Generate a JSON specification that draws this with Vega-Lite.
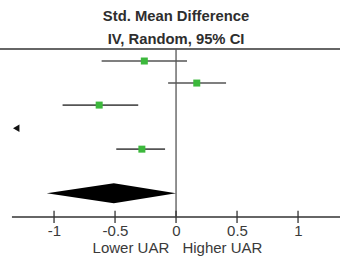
{
  "$schema": "https://vega.github.io/schema/vega-lite/v6.json",
  "autosize": "none",
  "width": 340,
  "height": 168,
  "padding": {"top": 49, "left": 0, "right": 0, "bottom": 45},
  "background": "white",
  "config": {
    "view": {"stroke": null},
    "font": "Liberation Sans",
    "locale": {"number": {"decimal": ".", "thousands": ",", "grouping": [3], "currency": ["$", ""], "minus": "-"}}
  },
  "datasets": {
    "studies": [
      {"row": 1, "smd": -0.26, "lo": -0.61, "hi": 0.09},
      {"row": 2, "smd": 0.17, "lo": -0.065, "hi": 0.41},
      {"row": 3, "smd": -0.63, "lo": -0.93, "hi": -0.31},
      {"row": 5, "smd": -0.28, "lo": -0.49, "hi": -0.09}
    ],
    "offscale": [{"row": 4.05, "x": -1.31}],
    "diamond": [
      {"x": -1.06, "y": 7, "y2": 7},
      {"x": -0.51, "y": 6.545, "y2": 7.455},
      {"x": 0, "y": 7, "y2": 7}
    ],
    "ticks": [{"x": -1}, {"x": -0.5}, {"x": 0}, {"x": 0.5}, {"x": 1}],
    "hlines": [
      {"x": -1.443, "x2": 1.344, "y": 0.4545},
      {"x": -1.345, "x2": 1.344, "y": 8.08}
    ],
    "titles": [
      {"x": 0, "y": -1.0, "t": "Std. Mean Difference"},
      {"x": 0, "y": 0.045, "t": "IV, Random, 95% CI"}
    ],
    "sides": [
      {"x": -0.37, "y": 9.5, "t": "Lower UAR"},
      {"x": 0.38, "y": 9.5, "t": "Higher UAR"}
    ]
  },
  "layer": [
    {
      "data": {"name": "hlines"},
      "mark": {"type": "rule", "color": "#333", "strokeWidth": 1.3},
      "encoding": {
        "x": {"field": "x", "type": "quantitative", "scale": {"domain": [-1.443, 1.344], "nice": false, "zero": false},
          "axis": {"values": [-1, -0.5, 0, 0.5, 1], "format": "~g", "domain": false, "ticks": false, "grid": false, "labelFontSize": 15, "labelColor": "#3a3a3a", "labelPadding": 6, "title": null, "labelFont": "Liberation Sans"}},
        "x2": {"field": "x2"},
        "y": {"field": "y", "type": "quantitative", "scale": {"domain": [0.4545, 8.08], "reverse": true, "nice": false, "zero": false}, "axis": null}
      }
    },
    {
      "data": {"values": [{"x": 0, "y": 0.4545, "y2": 8.08}]},
      "mark": {"type": "rule", "color": "#555", "strokeWidth": 1.3},
      "encoding": {
        "x": {"field": "x", "type": "quantitative"},
        "y": {"field": "y", "type": "quantitative"},
        "y2": {"field": "y2"}
      }
    },
    {
      "data": {"name": "ticks"},
      "mark": {"type": "rule", "color": "#333", "strokeWidth": 1.3},
      "encoding": {
        "x": {"field": "x", "type": "quantitative"},
        "y": {"datum": 7.8, "type": "quantitative"},
        "y2": {"datum": 8.35}
      }
    },
    {
      "data": {"name": "studies"},
      "mark": {"type": "rule", "color": "#555", "strokeWidth": 1.6},
      "encoding": {
        "x": {"field": "lo", "type": "quantitative"},
        "x2": {"field": "hi"},
        "y": {"field": "row", "type": "quantitative"}
      }
    },
    {
      "data": {"name": "studies"},
      "mark": {"type": "point", "shape": "square", "filled": true, "size": 49, "color": "#3cb83c", "opacity": 1},
      "encoding": {
        "x": {"field": "smd", "type": "quantitative"},
        "y": {"field": "row", "type": "quantitative"}
      }
    },
    {
      "data": {"name": "offscale"},
      "mark": {"type": "point", "shape": "triangle-left", "filled": true, "size": 55, "color": "#111", "opacity": 1},
      "encoding": {
        "x": {"field": "x", "type": "quantitative"},
        "y": {"field": "row", "type": "quantitative"}
      }
    },
    {
      "data": {"name": "diamond"},
      "mark": {"type": "area", "color": "#000", "opacity": 1, "orient": "vertical"},
      "encoding": {
        "x": {"field": "x", "type": "quantitative"},
        "y": {"field": "y", "type": "quantitative", "stack": null},
        "y2": {"field": "y2"}
      }
    },
    {
      "data": {"name": "titles"},
      "mark": {"type": "text", "fontSize": 14.8, "fontWeight": "bold", "color": "#2e2e2e", "align": "center", "baseline": "middle", "font": "Liberation Sans"},
      "encoding": {
        "x": {"field": "x", "type": "quantitative"},
        "y": {"field": "y", "type": "quantitative"},
        "text": {"field": "t"}
      }
    },
    {
      "data": {"name": "sides"},
      "mark": {"type": "text", "fontSize": 15, "color": "#3a3a3a", "align": "center", "baseline": "middle"},
      "encoding": {
        "x": {"field": "x", "type": "quantitative"},
        "y": {"field": "y", "type": "quantitative"},
        "text": {"field": "t"}
      }
    }
  ]
}
